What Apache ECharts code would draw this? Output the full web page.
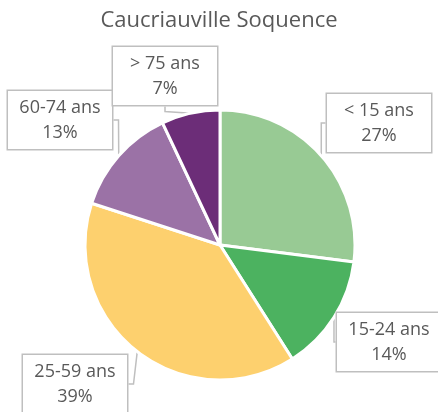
<!DOCTYPE html>
<html><head><meta charset="utf-8">
<script src="https://cdn.jsdelivr.net/npm/echarts@6/dist/echarts.min.js"></script>
<style>html,body{margin:0;padding:0;background:#fff}#c{width:438px;height:412px}</style>
</head><body><div id="c"></div>
<script>
const categories = ['< 15 ans', '15-24 ans', '25-59 ans', '60-74 ans', '> 75 ans'];
const values = [27, 14, 39, 13, 7];
const colors = ['#98ca94', '#4cb260', '#fdd06e', '#9b72a6', '#6c2d78'];
// label box centres (layout only)
const labelPos = [[379, 123], [389, 342], [75, 384], [60, 120], [165, 76]];

const chart = echarts.init(document.getElementById('c'), null, {renderer: 'canvas'});
chart.setOption({
  animation: false,
  title: {
    text: 'Caucriauville Soquence', left: 'center', top: 5,
    textStyle: {fontFamily: 'Open Sans', fontSize: 22, fontWeight: 'normal', color: '#595959'}
  },
  series: [{
    type: 'pie',
    center: [220, 245],
    radius: [0, 135],
    startAngle: 90,
    clockwise: true,
    avoidLabelOverlap: false,
    data: categories.map((c, i) => ({name: c, value: values[i], itemStyle: {color: colors[i]}})),
    itemStyle: {borderColor: '#fff', borderWidth: 3},
    label: {
      show: true,
      formatter: '{b}\n{d}%',
      fontFamily: 'Open Sans', fontSize: 18, color: '#595959', lineHeight: 25,
      align: 'center',
      backgroundColor: '#fff', borderColor: '#bfbfbf', borderWidth: 1.5,
      padding: [4, 8], width: 88
    },
    labelLine: {show: true, length: 10, length2: 5, lineStyle: {color: '#bfbfbf', width: 1.5}},
    labelLayout: function (p) {
      const pos = labelPos[p.dataIndex];
      return {x: pos[0], y: pos[1], align: 'center', verticalAlign: 'middle'};
    }
  }]
});
</script></body></html>
